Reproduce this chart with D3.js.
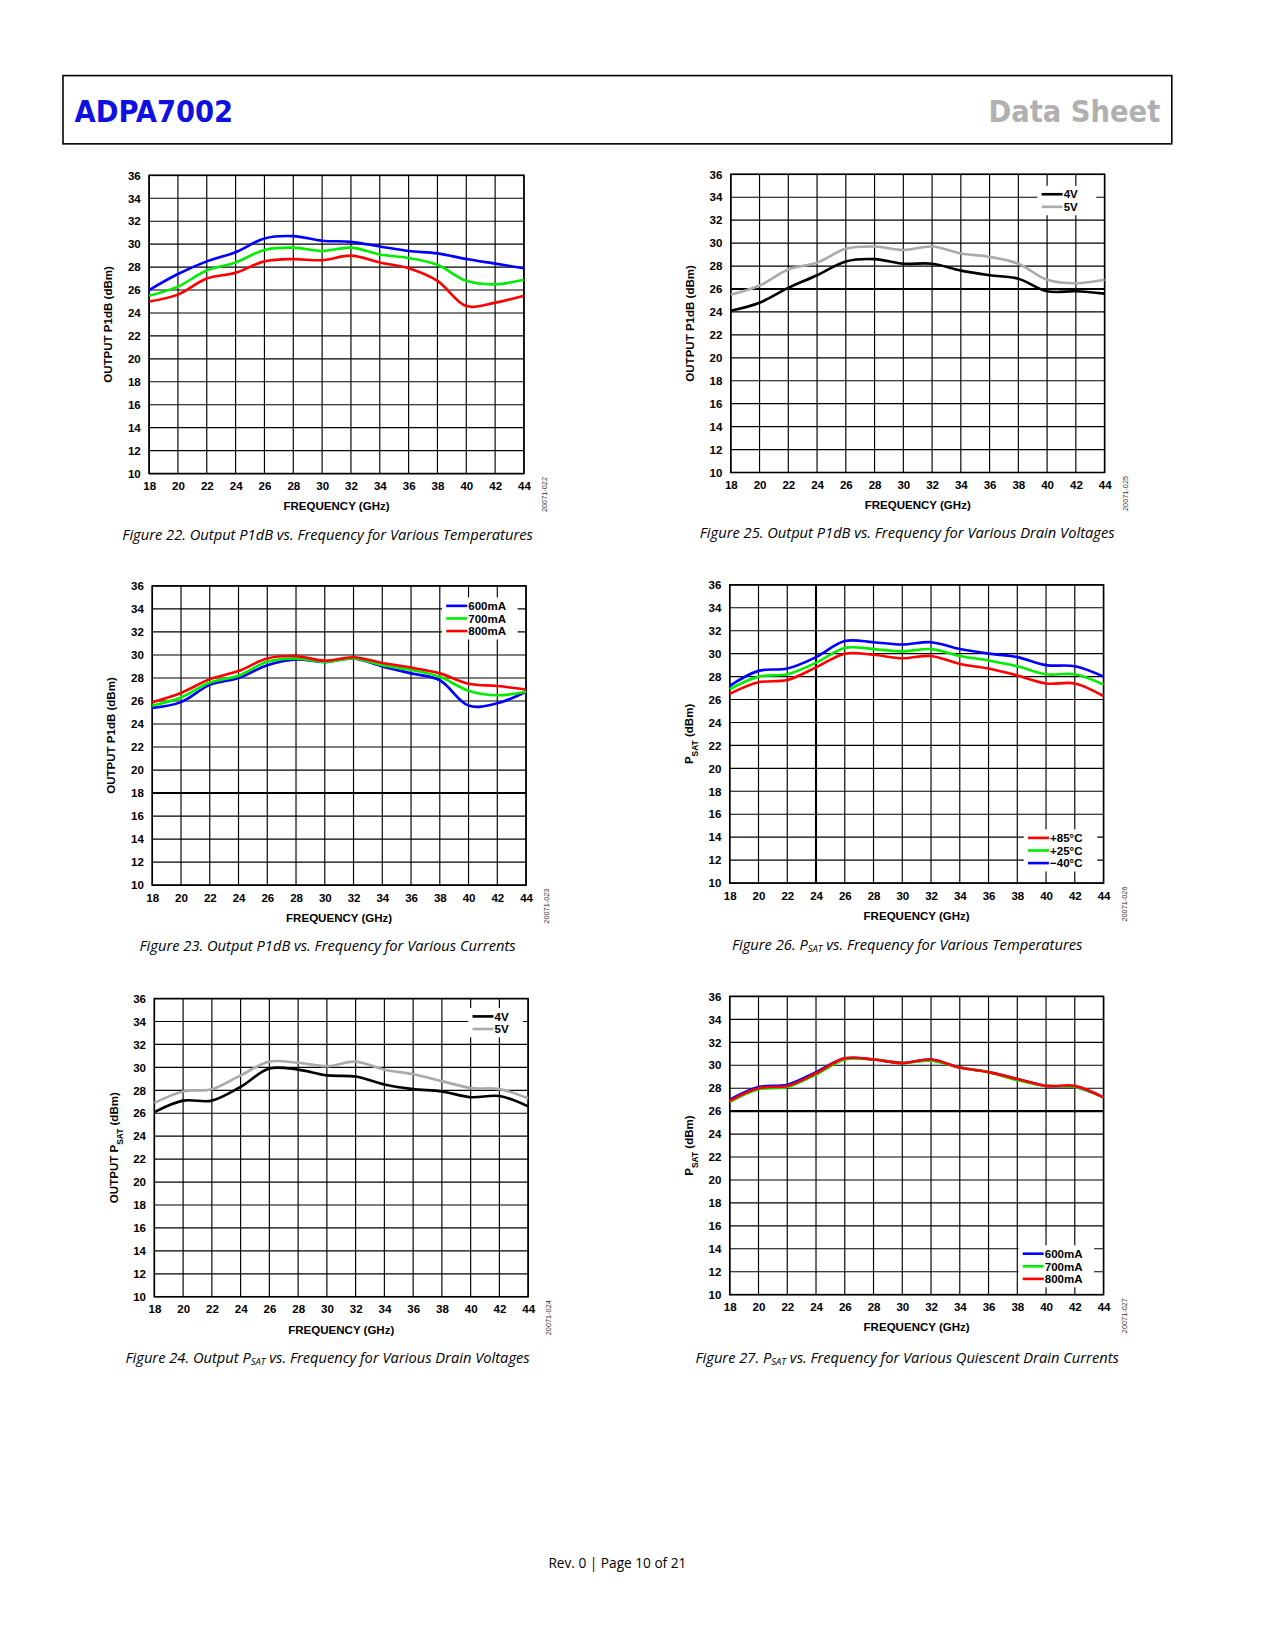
<!DOCTYPE html>
<html><head><meta charset="utf-8">
<script src="https://cdn.jsdelivr.net/npm/d3@7"></script>
<style>
body{margin:0;background:#fff}
svg text{font-family:"Liberation Sans",Arial,sans-serif}
.cap{font-family:"Open Sans","Liberation Sans",sans-serif;font-style:italic;font-size:14px}
</style></head><body>
<svg id="page" width="1275" height="1650"></svg>
<script>
var freq = [18,20,22,24,26,28,30,32,34,36,38,40,42,44]
var yTicks = [10,12,14,16,18,20,22,24,26,28,30,32,34,36]

// Figure 22 - temperatures
var f22Blue  = [26,27.4,28.5,29.3,30.5,30.7,30.3,30.2,29.8,29.4,29.2,28.7,28.3,27.9]
var f22Green = [25.5,26.3,27.7,28.4,29.5,29.7,29.4,29.7,29.1,28.8,28.2,26.8,26.5,26.9]
var f22Red   = [25,25.6,27,27.5,28.5,28.7,28.6,29,28.4,27.9,26.8,24.6,24.9,25.5]
// Figure 25 - drain voltages
var f25V4 = [24.1,24.8,26.1,27.2,28.4,28.6,28.2,28.2,27.6,27.2,26.9,25.8,25.8,25.6]
var f25V5 = [25.5,26.3,27.7,28.3,29.5,29.7,29.4,29.7,29.1,28.8,28.2,26.8,26.5,26.8]
// Figure 23 - currents
var f23mA600 = [25.4,25.9,27.4,28,29.1,29.6,29.4,29.7,29,28.4,27.8,25.6,25.8,26.8]
var f23mA700 = [25.6,26.3,27.6,28.2,29.4,29.7,29.4,29.7,29.1,28.7,28.1,26.9,26.5,26.8]
var f23mA800 = [25.9,26.7,27.9,28.6,29.7,29.9,29.5,29.8,29.3,28.9,28.4,27.5,27.3,27]
// Figure 26 - PSAT temperatures
var f26Red   = [26.5,27.5,27.7,28.8,30,29.9,29.6,29.8,29.1,28.7,28.1,27.4,27.4,26.3]
var f26Green = [26.9,28,28.2,29.2,30.5,30.4,30.2,30.4,29.8,29.4,28.9,28.2,28.2,27.3]
var f26Blue  = [27.2,28.5,28.7,29.7,31.1,31,30.8,31,30.4,30,29.7,29,28.9,28]
// Figure 24 - PSAT drain voltages
var f24V4 = [26.1,27.1,27.1,28.3,29.9,29.8,29.3,29.2,28.5,28.1,27.9,27.4,27.5,26.6]
var f24V5 = [26.9,27.9,28.1,29.3,30.5,30.4,30.1,30.5,29.8,29.4,28.8,28.2,28.1,27.3]
// Figure 27 - PSAT currents
var f27mA600 = [27,28.1,28.3,29.4,30.6,30.5,30.2,30.5,29.8,29.4,28.8,28.2,28.1,27.2]
var f27mA700 = [26.8,27.9,28.1,29.2,30.5,30.5,30.2,30.4,29.8,29.4,28.7,28.2,28.1,27.2]
var f27mA800 = [26.9,28,28.2,29.3,30.6,30.5,30.2,30.5,29.8,29.4,28.8,28.2,28.2,27.2]

var RED = "#ff0000", GRN = "#00ee00", BLU = "#0000ff"
var svg = d3.select("#page").append("g").attr("transform","scale(1.05)")

// header
svg.append("rect").attr("x",60).attr("y",72).attr("width",1056).attr("height",65)
  .attr("fill","none").attr("stroke","#000").attr("stroke-width",1.5)
svg.append("text").attr("x",71).attr("y",116).text("ADPA7002")
  .attr("font-size",29).attr("font-weight","bold").attr("fill","#1010e0")
  .attr("style","font-family:'Liberation Sans Narrow','DejaVu Sans Condensed',sans-serif")
svg.append("text").attr("x",1105).attr("y",116).attr("text-anchor","end").text("Data Sheet")
  .attr("font-size",29).attr("font-weight","bold").attr("fill","#b0b0b0")
  .attr("style","font-family:'Liberation Sans Narrow','DejaVu Sans Condensed',sans-serif")
svg.append("text").attr("x",588).attr("y",1493).attr("text-anchor","middle")
  .attr("style","font-family:'Open Sans',sans-serif").attr("font-size",13).text("Rev. 0 | Page 10 of 21")

function chart(o) {
  var x = d3.scaleLinear().domain([18,44]).range([o.x0,o.x1])
  var y = d3.scaleLinear().domain([10,36]).range([o.y1,o.y0])
  var g = svg.append("g")
  freq.forEach(function (f) {
    g.append("line").attr("x1",x(f)).attr("x2",x(f)).attr("y1",o.y0).attr("y2",o.y1)
      .attr("stroke","#000").attr("stroke-width", f === o.thickX ? 2 : 1.1)
  })
  yTicks.forEach(function (t) {
    g.append("line").attr("x1",o.x0).attr("x2",o.x1).attr("y1",y(t)).attr("y2",y(t))
      .attr("stroke","#000").attr("stroke-width", t === o.thickY ? 2 : 1.1)
  })
  g.append("rect").attr("x",o.x0).attr("y",o.y0).attr("width",o.x1-o.x0).attr("height",o.y1-o.y0)
    .attr("fill","none").attr("stroke","#000").attr("stroke-width",1.5)
  g.append("g").attr("transform","translate(0,"+o.y1+")")
    .call(d3.axisBottom(x).tickValues(freq).tickSize(0).tickPadding(8))
    .call(function (a) { a.select(".domain").remove(); a.selectAll("text").attr("font-size",11).attr("font-weight","bold").attr("font-family","Liberation Sans") })
  g.append("g").attr("transform","translate("+o.x0+",0)")
    .call(d3.axisLeft(y).tickValues(yTicks).tickSize(0).tickPadding(8))
    .call(function (a) { a.select(".domain").remove(); a.selectAll("text").attr("font-size",11).attr("font-weight","bold").attr("font-family","Liberation Sans") })
  g.append("text").attr("x",(o.x0+o.x1)/2).attr("y",o.y1+35).attr("text-anchor","middle")
    .attr("font-size",11).attr("font-weight","bold").text("FREQUENCY (GHz)")
  var yl = g.append("text").attr("transform","translate("+(o.x0-35)+","+((o.y0+o.y1)/2)+") rotate(-90)")
    .attr("text-anchor","middle").attr("font-size",11).attr("font-weight","bold")
  o.ylab.forEach(function (p) {
    var s = yl.append("tspan").text(p[0])
    if (p[1]) s.attr("font-size",8).attr("baseline-shift","sub")
  })
  g.append("text").attr("transform","translate("+(o.x1+22)+","+(o.y1+20)+") rotate(-90)")
    .attr("text-anchor","middle").attr("font-size",7).attr("fill","#333").text(o.code)

  // legend
  if (o.legend) {
    var lg = o.legend, n = o.series.length
    g.append("rect").attr("x",lg.x-4).attr("y",lg.y-8).attr("width",lg.w).attr("height",n*12+4).attr("fill","#fff")
    o.series.forEach(function (s, i) {
      var yy = lg.y + i*12
      g.append("line").attr("x1",lg.x).attr("x2",lg.x+20).attr("y1",yy).attr("y2",yy)
        .attr("stroke",s.color).attr("stroke-width",2.5)
      g.append("text").attr("x",lg.x+21).attr("y",yy+4).attr("font-size",11).attr("font-weight","bold").text(s.name)
    })
  }
  var line = d3.line().x(function (d, i) { return x(freq[i]) }).y(function (d) { return y(d) }).curve(d3.curveCatmullRom)
  o.series.forEach(function (s) {
    g.append("path").attr("d",line(s.values)).attr("fill","none").attr("stroke",s.color).attr("stroke-width",2.5)
  })
  svg.append("text").attr("class","cap").attr("x",o.cx).attr("y",o.cy).attr("text-anchor","middle")
    .selectAll("tspan").data(o.caption).enter().append("tspan")
    .text(function (p) { return p[0] })
    .attr("font-size",function (p) { return p[1] ? 9 : null })
    .attr("baseline-shift",function (p) { return p[1] ? "-2" : null })
}

var p1 = [["OUTPUT P1dB (dBm)"]]
chart({x0:142,x1:499,y0:167,y1:451,ylab:p1,code:"20071-022",cx:312,cy:514,
  caption:[["Figure 22. Output P1dB vs. Frequency for Various Temperatures"]],
  series:[{values:f22Blue,color:BLU},{values:f22Green,color:GRN},{values:f22Red,color:RED}]})
chart({x0:696,x1:1052,y0:166,y1:450,ylab:p1,code:"20071-025",cx:864,cy:512,thickY:26,
  caption:[["Figure 25. Output P1dB vs. Frequency for Various Drain Voltages"]],
  legend:{x:992,y:185,w:56},
  series:[{name:"4V",values:f25V4,color:"#000"},{name:"5V",values:f25V5,color:"#aaaaaa"}]})
chart({x0:145,x1:501,y0:558,y1:843,ylab:p1,code:"20071-023",cx:312,cy:906,thickY:18,
  caption:[["Figure 23. Output P1dB vs. Frequency for Various Currents"]],
  legend:{x:425,y:577,w:72},
  series:[{name:"600mA",values:f23mA600,color:BLU},{name:"700mA",values:f23mA700,color:GRN},{name:"800mA",values:f23mA800,color:RED}]})
chart({x0:695,x1:1051,y0:557,y1:841,ylab:[["P"],["SAT",1],[" (dBm)"]],code:"20071-026",cx:864,cy:905,thickX:24,
  caption:[["Figure 26. P"],["SAT",1],[" vs. Frequency for Various Temperatures"]],
  legend:{x:979,y:798,w:70},
  series:[{name:"+85°C",values:f26Red,color:RED},{name:"+25°C",values:f26Green,color:GRN},{name:"\u221240°C",values:f26Blue,color:BLU}]})
chart({x0:147,x1:503,y0:951,y1:1235,ylab:[["OUTPUT P"],["SAT",1],[" (dBm)"]],code:"20071-024",cx:312,cy:1298,
  caption:[["Figure 24. Output P"],["SAT",1],[" vs. Frequency for Various Drain Voltages"]],
  legend:{x:450,y:968,w:52},
  series:[{name:"4V",values:f24V4,color:"#000"},{name:"5V",values:f24V5,color:"#aaaaaa"}]})
chart({x0:695,x1:1051,y0:949,y1:1233,ylab:[["P"],["SAT",1],[" (dBm)"]],code:"20071-027",cx:864,cy:1298,thickY:26,
  caption:[["Figure 27. P"],["SAT",1],[" vs. Frequency for Various Quiescent Drain Currents"]],
  legend:{x:974,y:1194,w:72},
  series:[{name:"600mA",values:f27mA600,color:BLU},{name:"700mA",values:f27mA700,color:GRN},{name:"800mA",values:f27mA800,color:RED}]})
</script></body></html>
